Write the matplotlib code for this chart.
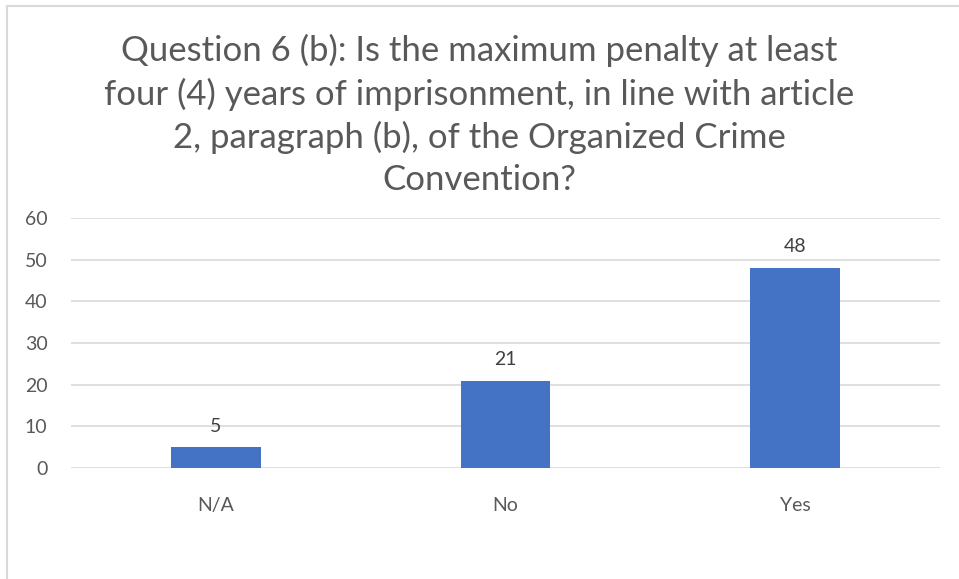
import matplotlib.pyplot as plt
from matplotlib.patches import Rectangle

# data
categories = ['N/A', 'No', 'Yes']
values = [5, 21, 48]
yticks = [0, 10, 20, 30, 40, 50, 60]
title = ('Question 6 (b): Is the maximum penalty at least\n'
         'four (4) years of imprisonment, in line with article\n'
         '2, paragraph (b), of the Organized Crime\n'
         'Convention?')

plt.rcParams['font.family'] = ['Lato', 'DejaVu Sans']

W, H = 959, 579
fig = plt.figure(figsize=(W / 100, H / 100), dpi=100)

# outer chart border (only top/left visible in the crop)
fig.patches.append(Rectangle((7 / W, -0.1), 1.2, 1 - 6 / H + 0.1,
                             transform=fig.transFigure, fill=False,
                             edgecolor='#d9d9d9', linewidth=1.5))

left, right = 71, 940
top, bottom = 218, 468
ax = fig.add_axes([left / W, 1 - bottom / H, (right - left) / W, (bottom - top) / H])

x = range(len(categories))
bars = ax.bar(x, values, width=0.31, color='#4472c4', zorder=3)
for b, v in zip(bars, values):
    ax.text(b.get_x() + b.get_width() / 2, v + 3.0, str(v), ha='center', va='bottom',
            fontsize=14, color='#404040')

ax.set_xlim(-0.5, 2.5)
ax.set_ylim(0, 60)
ax.set_yticks(yticks)
ax.set_xticks(list(x))
ax.set_xticklabels(categories)
ax.grid(axis='y', color='#d9d9d9', linewidth=1.2, zorder=0)
for s in ax.spines.values():
    s.set_visible(False)
ax.tick_params(length=0, labelsize=14, labelcolor='#595959')
ax.tick_params(axis='y', pad=17)
ax.tick_params(axis='x', pad=21)

fig.text(0.5, 1 - 115 / H, title, ha='center', va='center', fontsize=25,
         color='#595959', linespacing=1.38)

fig.savefig('out.png', dpi=100)
